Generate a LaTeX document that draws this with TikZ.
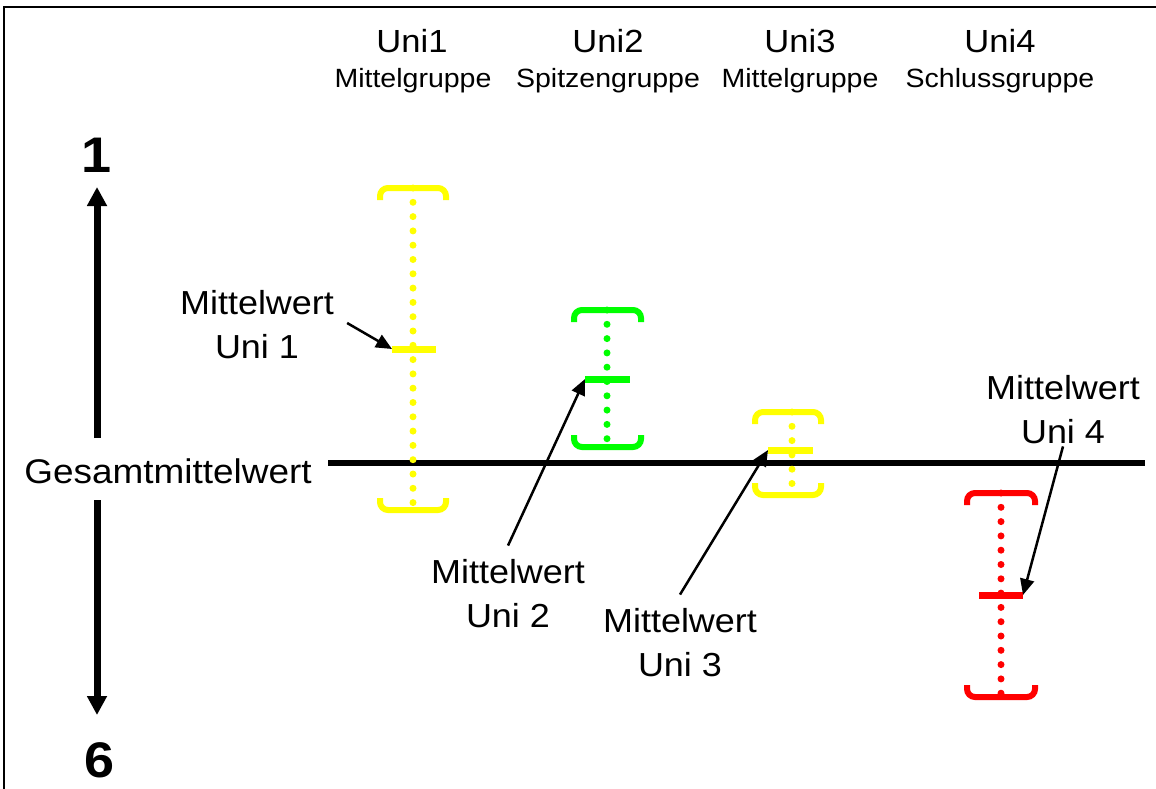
\documentclass[tikz,border=0pt]{standalone}
\usepackage{fontspec}
\setmainfont{Liberation Sans}[FakeStretch=1.08]
\usetikzlibrary{arrows.meta,positioning}

\definecolor{uniyellow}{RGB}{255,255,0}
\definecolor{unigreen}{RGB}{0,255,0}
\definecolor{unired}{RGB}{255,0,0}

\tikzset{
	bracket/.style={line width=6pt,rounded corners=8pt},
	dotline/.style={line width=7pt,line cap=round,dash pattern=on 0pt off 14.3pt},
	meanbar/.style={line width=7pt},
}

\begin{document}
\begin{tikzpicture}[x=1pt,y=-1pt]
		\useasboundingbox (0,0) rectangle (1156,789);
		\draw[line width=2pt] (4,789) -- (4,7) -- (1156,7);

		% column heads
		\begin{scope}[every node/.style={anchor=base,inner sep=0pt}]
			\node[font=\fontsize{32}{38}\selectfont] (u1) at (412,53) {Uni1};
			\node[font=\fontsize{32}{38}\selectfont] (u2) at (608,53) {Uni2};
			\node[font=\fontsize{32}{38}\selectfont] (u3) at (800,53) {Uni3};
			\node[font=\fontsize{32}{38}\selectfont] (u4) at (1000,53) {Uni4};
			\node[font=\fontsize{26.4}{31}\selectfont] (g1) at (413,88) {Mittelgruppe};
			\node[font=\fontsize{26.4}{31}\selectfont] (g2) at (608,88) {Spitzengruppe};
			\node[font=\fontsize{26.4}{31}\selectfont] (g3) at (800,88) {Mittelgruppe};
			\node[font=\fontsize{26.4}{31}\selectfont] (g4) at (1000,88) {Schlussgruppe};
			\node[font=\fontsize{50}{58}\bfseries] (one) at (97,172) {1};
			\node[font=\fontsize{50}{58}\bfseries] (six) at (100,777) {6};
			\node[font=\fontsize{34.2}{40}\selectfont] (gmw) at (168,483) {Gesamtmittelwert};
		\end{scope}

		% labels of the means
		\begin{scope}[every node/.style={align=center,inner sep=0pt,font=\fontsize{33.3}{44}\selectfont}]
			\node (mw1) at (257,325) {Mittelwert\\Uni 1};
			\node (mw2) at (508,594) {Mittelwert\\Uni 2};
			\node (mw3) at (680,643) {Mittelwert\\Uni 3};
			\node (mw4) at (1063,410) {Mittelwert\\Uni 4};
		\end{scope}

		% axis
		\coordinate (axtop) at (97,187);
		\coordinate (axmid1) at (97,438);
		\coordinate (axmid2) at (97,500);
		\coordinate (axbot) at (97,715);
		\coordinate (gl) at (328,463);
		\coordinate (gr) at (1145,463);
		\draw[line width=7pt,-{Triangle[length=19pt,width=19pt]}] (axmid1) -- (axtop);
		\draw[line width=7pt,-{Triangle[length=19pt,width=19pt]}] (axmid2) -- (axbot);
		\draw[line width=6pt] (gl) -- (gr);

		% Uni1
		\draw[dotline,uniyellow] (413,188) -- (413,510);
		\draw[bracket,uniyellow] (380,200) |- (446,188) -- (446,200);
		\draw[bracket,uniyellow] (380,498) |- (446,510) -- (446,498);
		\draw[meanbar,uniyellow] (392,349) coordinate (m1) -- (436,349);
		% Uni2
		\draw[dotline,unigreen] (607,310) -- (607,447);
		\draw[bracket,unigreen] (574,322) |- (641,310) -- (641,322);
		\draw[bracket,unigreen] (574,435) |- (641,447) -- (641,435);
		\draw[meanbar,unigreen] (585,379) coordinate (m2) -- (630,379);
		% Uni3
		\draw[dotline,uniyellow] (792,412) -- (792,495);
		\draw[bracket,uniyellow] (755,424) |- (821,412) -- (821,424);
		\draw[bracket,uniyellow] (755,483) |- (821,495) -- (821,483);
		\draw[meanbar,uniyellow] (768,450) coordinate (m3) -- (813,450);
		% Uni4
		\draw[dotline,unired] (1001,493) -- (1001,697);
		\draw[bracket,unired] (967,505) |- (1035,493) -- (1035,505);
		\draw[bracket,unired] (967,685) |- (1035,697) -- (1035,685);
		\draw[meanbar,unired] (979,595) -- (1023,595) coordinate (m4);

		\begin{scope}[every edge/.style={draw,line width=2.5pt,-{Triangle[length=16pt,width=14pt]}}]
			\path ([xshift=13pt,yshift=2pt]mw1.east) edge (m1);
			\path ([yshift=14pt]mw2.north) edge (m2);
			\path ([yshift=14pt]mw3.north) edge (m3);
			\path ([yshift=-2pt]mw4.south) edge (m4);
		\end{scope}
	\end{tikzpicture}
\end{document}
